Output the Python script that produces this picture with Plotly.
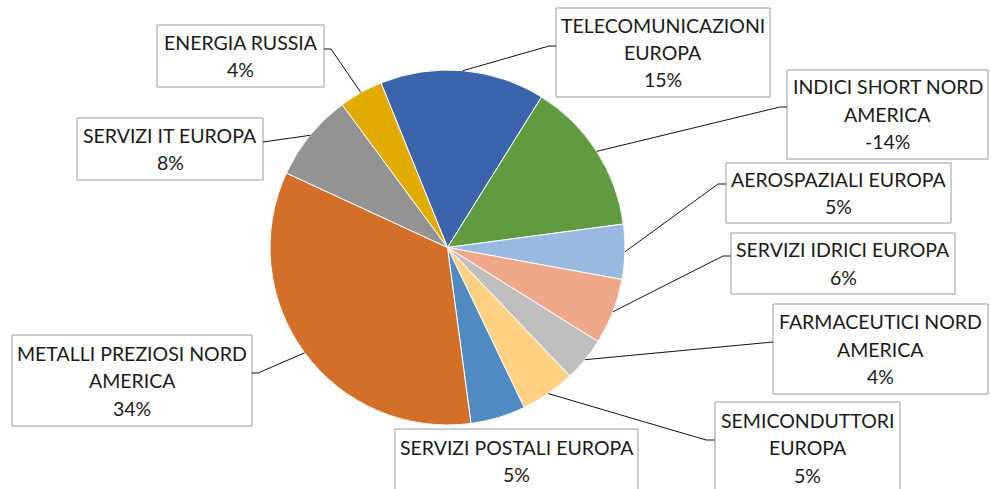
import math
import plotly.graph_objects as go

# ---- data (clockwise order as drawn) ----
categories = [
    "TELECOMUNICAZIONI EUROPA",
    "INDICI SHORT NORD AMERICA",
    "AEROSPAZIALI EUROPA",
    "SERVIZI IDRICI EUROPA",
    "FARMACEUTICI NORD AMERICA",
    "SEMICONDUTTORI EUROPA",
    "SERVIZI POSTALI EUROPA",
    "METALLI PREZIOSI NORD AMERICA",
    "SERVIZI IT EUROPA",
    "ENERGIA RUSSIA",
]
# label lines as wrapped in the chart
label_lines = [
    ["TELECOMUNICAZIONI", "EUROPA"],
    ["INDICI SHORT NORD", "AMERICA"],
    ["AEROSPAZIALI EUROPA"],
    ["SERVIZI IDRICI EUROPA"],
    ["FARMACEUTICI NORD", "AMERICA"],
    ["SEMICONDUTTORI", "EUROPA"],
    ["SERVIZI POSTALI EUROPA"],
    ["METALLI PREZIOSI NORD", "AMERICA"],
    ["SERVIZI IT EUROPA"],
    ["ENERGIA RUSSIA"],
]
values_pct = [15, -14, 5, 6, 4, 5, 5, 34, 8, 4]

colors = ["#3C64AD", "#609B40", "#98B9E0", "#F1A88A", "#BFBFBF",
          "#FFD383", "#4F8AC2", "#D46F2A", "#939393", "#E2AB00"]

# ---- layout geometry (pixels) ----
W, H = 991, 489
CX, CY, R = 447.5, 247.5, 177.5
ROTATION = -22
LINE_H = 27.5
FONT = dict(family="Lato", size=19.5, color="#1a1a1a")

# label boxes: (left, top, right, bottom)
boxes = [
    (556, 8, 770, 97),
    (787, 70, 988, 159),
    (726, 163, 951, 223),
    (731, 233, 955, 294),
    (773, 304, 988, 394),
    (715, 402, 900, 493),
    (395, 429, 638, 493),
    (12, 335, 252, 426),
    (77, 118, 263, 180),
    (157, 25, 324, 87),
]
# leader start (x, y, stub_dx) ; None = no leader
leaders = [
    (556, 46, -7),
    (787, 107, -7),
    (726, 184, -8),
    (731, 256, -8),
    (773, 342, 0),
    (715, 440, -9),
    None,
    (252, 373, 6),
    (263, 142, 0),
    (324, 49, 7),
]

def px(x):
    return x / W

def py(y):
    return 1 - y / H

abs_vals = [abs(v) for v in values_pct]
total = sum(abs_vals)

fig = go.Figure(go.Pie(
    labels=categories,
    values=abs_vals,
    sort=False,
    direction="clockwise",
    rotation=ROTATION,
    marker=dict(colors=colors, line=dict(color="white", width=1)),
    textinfo="none",
    hoverinfo="label+percent",
    showlegend=False,
    domain=dict(x=[px(CX - R), px(CX + R)], y=[py(CY + R), py(CY - R)]),
))

annotations = []
shapes = []
cum = 0.0
for i, v in enumerate(abs_vals):
    mid = ROTATION + (cum + v / 2) / total * 360.0
    cum += v
    tx = CX + R * math.sin(math.radians(mid))
    ty = CY - R * math.cos(math.radians(mid))
    l, t, r, b = boxes[i]
    shapes.append(dict(type="rect", xref="paper", yref="paper",
                       x0=px(l), x1=px(r), y0=py(b), y1=py(t),
                       fillcolor="white", line=dict(color="#9A9A9A", width=1),
                       layer="above"))
    lines = label_lines[i] + [f"{values_pct[i]}%"]
    cy = (t + b) / 2
    n = len(lines)
    for k, txt in enumerate(lines):
        ly = cy + (k - (n - 1) / 2) * LINE_H
        annotations.append(dict(
            x=px((l + r) / 2), y=py(ly), xref="paper", yref="paper",
            xanchor="center", yanchor="middle", text=txt,
            showarrow=False, font=FONT,
        ))
    if leaders[i] is not None:
        sx, sy, dx = leaders[i]
        path = f"M {px(sx)} {py(sy)} L {px(sx + dx)} {py(sy)} L {px(tx)} {py(ty)}"
        shapes.append(dict(type="path", xref="paper", yref="paper", path=path,
                           line=dict(color="#111111", width=1)))

fig.update_layout(
    width=W, height=H,
    margin=dict(l=0, r=0, t=0, b=0),
    paper_bgcolor="white", plot_bgcolor="white",
    annotations=annotations, shapes=shapes,
)

fig.write_html("out.html", config={"displayModeBar": False},
               post_script="document.body.style.margin='0';document.body.style.padding='0';")
